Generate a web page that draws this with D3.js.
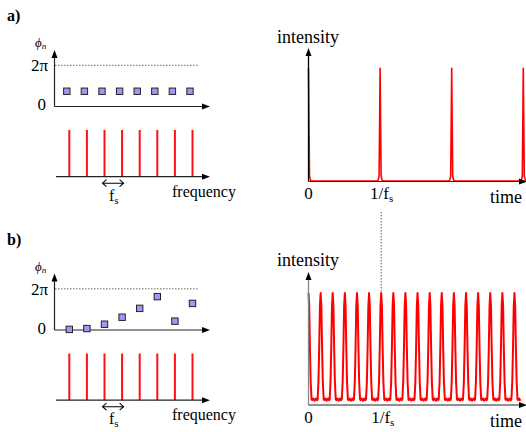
<!DOCTYPE html>
<html>
<head>
<meta charset="utf-8">
<title>Phase and intensity</title>
<style>
body { margin: 0; background: #fff; }
svg text { font-family: "Liberation Serif", "Times New Roman", serif; fill: #000; }
</style>
<script src="https://cdn.jsdelivr.net/npm/d3@7"></script>
</head>
<body>
<svg id="chart" width="526" height="432"></svg>
<script>
// spectral components (index n) and their phases, in units of pi
var freqIdx = [1, 2, 3, 4, 5, 6, 7, 8];
var phaseA = [0.74, 0.74, 0.74, 0.74, 0.74, 0.74, 0.74, 0.74];
var phaseB = [0.03, 0.07, 0.28, 0.62, 1.05, 1.62, 0.43, 1.29];
var phaseTicks = [0, 2];
var phaseLabels = ["0", "2\u03c0"];

// pulse centres, in units of 1/fs
var peaksA = [0, 1, 2, 3];
var peaksB = [0, 0.167, 0.333, 0.5, 0.667, 0.833, 1, 1.167, 1.333, 1.5, 1.667, 1.833, 2, 2.167, 2.333, 2.5, 2.667, 2.833];

// pulse shape: offset from centre (1/fs) and relative intensity
var pulseOffA = [-0.04, -0.028, -0.02, -0.014, -0.007, 0, 0.007, 0.014, 0.02, 0.028, 0.04];
var pulseValA = [0.005, 0.012, 0.03, 0.05, 0.5, 1, 0.5, 0.05, 0.03, 0.012, 0.005];
var pulseOffB = [-0.083, -0.065, -0.05, -0.042, -0.03, -0.02, -0.01, 0, 0.01, 0.02, 0.03, 0.042, 0.05, 0.065, 0.083];
var pulseValB = [0.03, 0.05, 0.035, 0.04, 0.2, 0.5, 0.88, 1, 0.88, 0.5, 0.2, 0.04, 0.035, 0.05, 0.03];

var svg = d3.select("#chart");

function arrowHead(g, x, y, dir) {
	// small filled triangle pointing up or right
	var p = dir == "up" ? [[x, y], [x - 3, y + 8], [x + 3, y + 8]] : [[x, y], [x - 8, y - 3], [x - 8, y + 3]];
	g.append("path").attr("d", "M" + p.join("L") + "Z").attr("fill", "#000");
}

function drawLeft(top, label, phases, squareShift) {
	var g = svg.append("g").attr("transform", "translate(0," + top + ")");
	var x = d3.scaleLinear().domain([1, 8]).range([69.3, 192.5]);
	var y = d3.scaleLinear().domain([0, 2]).range([106.5, 65.3]);

	g.append("text").attr("x", 7).attr("y", 21).attr("font-size", 16).attr("font-weight", "bold").text(label);

	// phase axes
	g.append("line").attr("x1", 54.5).attr("x2", 54.5).attr("y1", y(0)).attr("y2", 55).attr("stroke", "#222").attr("stroke-width", 1.2);
	arrowHead(g, 54.5, 50, "up");
	g.append("line").attr("x1", 54.5).attr("x2", 203).attr("y1", y(0)).attr("y2", y(0)).attr("stroke", "#222").attr("stroke-width", 1.2);
	arrowHead(g, 210, y(0), "right");
	g.append("line").attr("x1", 55).attr("x2", 198).attr("y1", y(2)).attr("y2", y(2))
		.attr("stroke", "#444").attr("stroke-width", 0.8).attr("stroke-dasharray", "1.5,1.5");

	g.selectAll("text.tick").data(phaseTicks).enter().append("text")
		.attr("class", "tick")
		.attr("x", function (d) { return d == 0 ? 46 : 48; })
		.attr("y", function (d) { return y(d) + (d == 0 ? 3.5 : 5.7); })
		.attr("text-anchor", "end").attr("font-size", 17)
		.text(function (d, i) { return phaseLabels[i]; });

	var phi = g.append("text").attr("x", 35).attr("y", 47).attr("font-size", 13).attr("font-style", "italic");
	phi.append("tspan").text("\u03d5");
	phi.append("tspan").attr("font-size", 9).attr("dy", 2).text("n");

	g.selectAll("rect.ph").data(freqIdx).enter().append("rect")
		.attr("class", "ph")
		.attr("x", function (d) { return x(d) - 3.2 + squareShift; })
		.attr("y", function (d, i) { return y(phases[i]) - 3.2; })
		.attr("width", 6.4).attr("height", 6.4)
		.attr("fill", "#9a9af5").attr("stroke", "#222").attr("stroke-width", 1);

	// spectrum
	var ys = d3.scaleLinear().domain([0, 1]).range([176.7, 130]);
	g.selectAll("line.sp").data(freqIdx).enter().append("line")
		.attr("class", "sp")
		.attr("x1", function (d) { return x(d); }).attr("x2", function (d) { return x(d); })
		.attr("y1", ys(0)).attr("y2", ys(1))
		.attr("stroke", "#ff1010").attr("stroke-width", 2);
	g.append("line").attr("x1", 56).attr("x2", 203).attr("y1", ys(0)).attr("y2", ys(0)).attr("stroke", "#222").attr("stroke-width", 1.2);
	arrowHead(g, 210, ys(0), "right");

	// fs spacing marker
	var ax = x(3) - 2, bx = x(4) + 1.5, ay = ys(0) + 6.5;
	g.append("path")
		.attr("d", "M" + ax + "," + ay + "L" + bx + "," + ay +
			"M" + (ax + 4) + "," + (ay - 3.5) + "L" + ax + "," + ay + "L" + (ax + 4) + "," + (ay + 3.5) +
			"M" + (bx - 4) + "," + (ay - 3.5) + "L" + bx + "," + ay + "L" + (bx - 4) + "," + (ay + 3.5))
		.attr("fill", "none").attr("stroke", "#000").attr("stroke-width", 1.1);
	var fs = g.append("text").attr("x", 109).attr("y", ys(0) + 24).attr("font-size", 16);
	fs.append("tspan").text("f");
	fs.append("tspan").attr("font-size", 11).attr("dy", 3).text("s");

	g.append("text").attr("x", 172).attr("y", ys(0) + 20).attr("font-size", 16).text("frequency");
}

function drawRight(top, peaks, offs, vals, axisTop, baseY, peakY, tScale, width, axisColor) {
	var g = svg.append("g");
	var x = d3.scaleLinear().domain([0, 3]).range([308.5, 308.5 + 3 * tScale]);
	var y = d3.scaleLinear().domain([0, 1]).range([baseY, peakY]);

	var pts = [];
	peaks.forEach(function (p) {
		offs.forEach(function (o, i) { pts.push([p + o, vals[i]]); });
	});
	pts = pts.filter(function (d) { return d[0] >= 0; });

	g.append("path").datum(pts)
		.attr("d", d3.line().x(function (d) { return x(d[0]); }).y(function (d) { return y(d[1]); }))
		.attr("fill", "none").attr("stroke", "#ff0000").attr("stroke-width", width).attr("stroke-linejoin", "round");

	var axisY = top.axisY;
	g.append("line").attr("x1", 308.5).attr("x2", 308.5).attr("y1", axisY).attr("y2", axisTop + 6)
		.attr("stroke", axisColor).attr("stroke-width", 1.3);
	arrowHead(g, 308.5, axisTop, "up");
	g.append("line").attr("x1", 308.5).attr("x2", 520).attr("y1", axisY).attr("y2", axisY).attr("stroke", "#222").attr("stroke-width", 1);
	arrowHead(g, 527, axisY, "right");

	g.append("text").attr("x", 277).attr("y", top.label).attr("font-size", 18).text("intensity");
	g.append("text").attr("x", x(0)).attr("y", axisY + 17.5).attr("text-anchor", "middle").attr("font-size", 17).text("0");
	var inv = g.append("text").attr("x", x(1) - 10).attr("y", axisY + 17.5).attr("font-size", 17);
	inv.append("tspan").text("1/f");
	inv.append("tspan").attr("font-size", 11).attr("dy", 3).text("s");
	g.append("text").attr("x", 490).attr("y", axisY + 21.5).attr("font-size", 18).text("time");
	return x;
}

drawLeft(0, "a)", phaseA, -2.5);
drawLeft(223.5, "b)", phaseB, 0);

drawRight({ axisY: 181.5, label: 43 }, peaksA, pulseOffA, pulseValA, 48, 181.5, 68.3, 71.6, 1.6, "#000");
var xb = drawRight({ axisY: 405, label: 266 }, peaksB, pulseOffB, pulseValB, 272, 404, 293, 72.7, 2, "#888");

// guide from 1/fs in panel a down to panel b
svg.append("line").attr("x1", xb(1)).attr("x2", xb(1)).attr("y1", 212).attr("y2", 292)
	.attr("stroke", "#333").attr("stroke-width", 0.8).attr("stroke-dasharray", "1.5,1.5");
</script>
</body>
</html>
